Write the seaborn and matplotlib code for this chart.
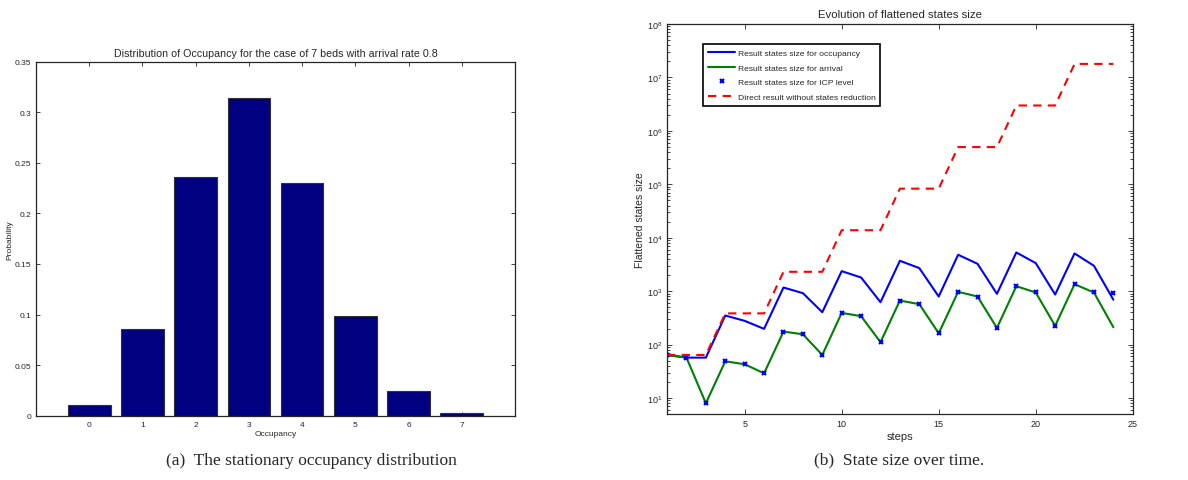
import numpy as np
import pandas as pd
import matplotlib
matplotlib.use("Agg")
import matplotlib.pyplot as plt
from matplotlib.lines import Line2D
from matplotlib.ticker import NullFormatter
import seaborn as sns

# ---- data: left panel ----
occupancy = [0, 1, 2, 3, 4, 5, 6, 7]
probability = [0.0109, 0.0857, 0.236, 0.3138, 0.230, 0.0982, 0.024, 0.0026]

# ---- data: right panel ----
steps = list(range(1, 25))
occ_size = [64, 57, 57, 350, 278, 197, 1170, 917, 404, 2370, 1800, 622,
             3700, 2700, 794, 4800, 3250, 891, 5300, 3350, 866, 5080, 2985, 692]
arr_size = [64, 57, 8, 48.7, 42.8, 29, 175, 156, 64, 392, 340, 111,
            668, 570, 163, 972, 794, 205, 1240, 944, 224, 1350, 944, 211]
icp_size = [64, 57, 8, 48.7, 42.8, 29, 175, 156, 64, 392, 340, 111,
            668, 570, 163, 972, 794, 205, 1240, 944, 224, 1350, 944, 940]
direct_size = [64, 64, 64, 384, 384, 384, 2304, 2304, 2304, 13824, 13824, 13824,
               82944, 82944, 82944, 497664, 497664, 497664, 2985984, 2985984, 2985984,
               17915904, 17915904, 17915904]

sns.set_style("ticks")
plt.rcParams['font.family'] = ['Liberation Sans', 'DejaVu Sans']

fig = plt.figure(figsize=(11.88, 4.81), dpi=100)
ax1 = fig.add_axes([0.0303, 0.1337, 0.4032, 0.736])
ax2 = fig.add_axes([0.5615, 0.137, 0.392, 0.811])

# ---- left: bar chart ----
df1 = pd.DataFrame({"Occupancy": occupancy, "Probability": probability})
sns.barplot(data=df1, x="Occupancy", y="Probability", color="#000080",
            saturation=1, width=0.8, edgecolor="#333333", linewidth=0.8, ax=ax1)
ax1.set_xlim(-1, 8)
ax1.set_ylim(0, 0.35)
ax1.set_yticks([0, 0.05, 0.1, 0.15, 0.2, 0.25, 0.3, 0.35])
ax1.set_yticklabels(["0", "0.05", "0.1", "0.15", "0.2", "0.25", "0.3", "0.35"])
ax1.set_title("Distribution of Occupancy for the case of 7 beds with arrival rate 0.8",
              fontsize=7.7, pad=4)
ax1.set_xlabel("Occupancy", fontsize=6, labelpad=2)
ax1.set_ylabel("Probability", fontsize=6, labelpad=1)
ax1.tick_params(direction="in", top=True, right=True, labelsize=6, length=3, width=0.6)
for s in ax1.spines.values():
    s.set_visible(True)
    s.set_linewidth(0.9)

# ---- right: log line chart ----
df2 = pd.DataFrame({"steps": steps, "occ": occ_size, "arr": arr_size,
                    "icp": icp_size, "direct": direct_size})
sns.lineplot(data=df2, x="steps", y="occ", color="#0000ff", lw=1.5, ax=ax2)
sns.lineplot(data=df2, x="steps", y="arr", color="#008000", lw=1.5, ax=ax2)
ax2.plot(df2["steps"], df2["icp"], linestyle="none", marker="x", color="#0000ff",
         markersize=3.2, mew=1.5)
sns.lineplot(data=df2, x="steps", y="direct", color="#ff0000", lw=1.5, ax=ax2)
ax2.lines[-1].set_dashes([4, 3])
ax2.set_yscale("log")
ax2.set_ylim(5, 1e8)
ax2.set_xlim(1, 25)
ax2.set_xticks([5, 10, 15, 20, 25])
ax2.yaxis.set_minor_formatter(NullFormatter())
ax2.set_title("Evolution of flattened states size", fontsize=8.2, pad=5)
ax2.set_xlabel("steps", fontsize=8, labelpad=2)
ax2.set_ylabel("Flattened states size", fontsize=7.5, labelpad=1)
ax2.tick_params(which="both", direction="in", top=True, right=True, labelsize=6.5,
                width=0.6)
ax2.tick_params(which="major", length=3.5)
ax2.tick_params(which="minor", length=2)
for s in ax2.spines.values():
    s.set_visible(True)
    s.set_linewidth(0.9)

handles = [Line2D([], [], color="#0000ff", lw=1.5),
           Line2D([], [], color="#008000", lw=1.5),
           Line2D([], [], color="#0000ff", linestyle="none", marker="x",
                  markersize=3.2, mew=1.5),
           Line2D([], [], color="#ff0000", lw=1.5, dashes=[4, 3])]
labels = ["Result states size for occupancy", "Result states size for arrival",
          "Result states size for ICP level", "Direct result without states reduction"]
leg = ax2.legend(handles, labels, loc="upper left", bbox_to_anchor=(0.077, 0.949),
                 borderaxespad=0, fontsize=6.1, frameon=True, fancybox=False,
                 framealpha=1, edgecolor="black", handlelength=3.2, handletextpad=0.3,
                 labelspacing=0.8, borderpad=0.6)
leg.get_frame().set_linewidth(1.2)

# ---- captions ----
fig.text(0.262, 0.042, "(a)  The stationary occupancy distribution",
         ha="center", va="center", fontsize=12.5, family="Liberation Serif")
fig.text(0.757, 0.042, "(b)  State size over time.",
         ha="center", va="center", fontsize=12.5, family="Liberation Serif")

fig.savefig("out.png", dpi=100)
